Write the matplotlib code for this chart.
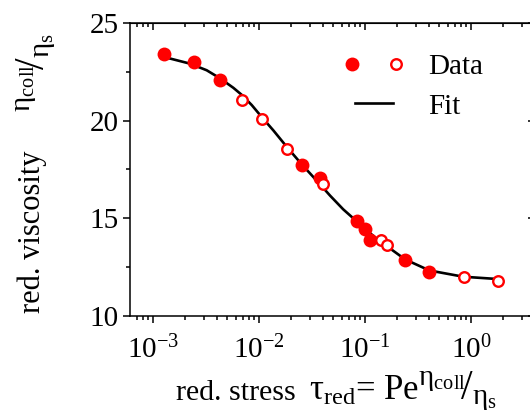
import matplotlib
matplotlib.use("Agg")
import matplotlib.pyplot as plt
from matplotlib.ticker import LogLocator, MultipleLocator, NullFormatter
from matplotlib.legend_handler import HandlerTuple

# values
filled_x = [1.27e-3, 2.44e-3, 4.28e-3, 0.0256, 0.0376, 0.0835, 0.100, 0.1115, 0.238, 0.404]
filled_y = [23.41, 23.02, 22.08, 17.73, 17.05, 14.88, 14.45, 13.89, 12.86, 12.27]
open_x = [6.87e-3, 0.01074, 0.0185, 0.0399, 0.1406, 0.160, 0.865, 1.81]
open_y = [21.06, 20.10, 18.56, 16.76, 13.89, 13.63, 11.98, 11.80]

# fit curve
fit_x = [1.25e-3, 2.23e-3, 3.21e-3, 4.28e-3, 5.73e-3, 6.87e-3, 8.53e-3, 0.01074,
         0.01365, 0.0185, 0.0256, 0.0376, 0.0468, 0.0622, 0.0836, 0.100, 0.124,
         0.160, 0.238, 0.404, 0.845, 1.81]
fit_y = [23.27, 22.92, 22.58, 22.17, 21.68, 21.32, 20.80, 20.15,
         19.50, 18.62, 17.73, 16.74, 16.16, 15.46, 14.84, 14.45, 14.03,
         13.58, 12.90, 12.33, 12.01, 11.89]

plt.rcParams["font.family"] = ["Liberation Serif", "DejaVu Serif"]
plt.rcParams["mathtext.fontset"] = "custom"
plt.rcParams["mathtext.rm"] = "Liberation Serif"
plt.rcParams["mathtext.it"] = "Liberation Serif"
plt.rcParams["mathtext.default"] = "rm"
plt.rcParams["axes.unicode_minus"] = False

fig = plt.figure(figsize=(5.3, 4.15), dpi=100)
ax = fig.add_axes([130/530, 1-316/415, 405/530, 293/415])

fit_line, = ax.plot(fit_x, fit_y, color="black", lw=1.9, zorder=2)
pf, = ax.plot(filled_x, filled_y, "o", color="red", ms=10, mew=0, zorder=3)
po, = ax.plot(open_x, open_y, "o", mfc="white", mec="red", ms=7.6, mew=1.7, zorder=3)

ax.set_xscale("log")
ax.set_xlim(6.07e-4, 4.0)
ax.set_ylim(10, 25)
ax.xaxis.set_major_locator(LogLocator(base=10, numticks=10))
ax.xaxis.set_minor_locator(LogLocator(base=10, subs=range(2, 10), numticks=20))
ax.xaxis.set_minor_formatter(NullFormatter())
ax.yaxis.set_major_locator(MultipleLocator(5))
ax.yaxis.set_minor_locator(MultipleLocator(2.5))

for s in ax.spines.values():
    s.set_linewidth(1.1)
ax.tick_params(which="both", direction="out", width=1.1, labelsize=21,
               top=False, right=False)
ax.tick_params(which="major", length=5, pad=3)
ax.tick_params(which="minor", length=3)
ax.tick_params(axis="x", which="major", pad=9)

# mirrored ticks pointing inward on top and right
sec_x = ax.secondary_xaxis("top")
sec_x.xaxis.set_major_locator(LogLocator(base=10, numticks=10))
sec_x.xaxis.set_minor_locator(LogLocator(base=10, subs=range(2, 10), numticks=20))
sec_x.tick_params(which="both", direction="in", width=1.1, labeltop=False)
sec_x.tick_params(which="major", length=5)
sec_x.tick_params(which="minor", length=3)
sec_x.xaxis.set_minor_formatter(NullFormatter())
sec_y = ax.secondary_yaxis("right")
sec_y.yaxis.set_major_locator(MultipleLocator(5))
sec_y.yaxis.set_minor_locator(MultipleLocator(2.5))
sec_y.tick_params(which="both", direction="in", width=1.1, labelright=False)
sec_y.tick_params(which="major", length=5)
sec_y.tick_params(which="minor", length=3)

# axis titles, built from pieces so the ratio can sit raised/lowered at full size
fig.text(176/530, 1-400/415, "red. stress", fontsize=21.5,
         ha="left", va="baseline")
fig.text(309/530, 1-400/415, r"$\tau_{red}$= Pe", fontsize=25,
         ha="left", va="baseline")
fig.text(418/530, 1-399/415, r"$^{\eta_{coll}}\!/_{\eta_s}$", fontsize=30,
         ha="left", va="baseline")
fig.text(32/530, 1-232/415, "red. viscosity", fontsize=22, rotation=90,
         ha="center", va="center")
fig.text(36/530, 1-72/415, r"$^{\eta_{coll}}\!/_{\eta_s}$", fontsize=30,
         rotation=90, ha="center", va="center")

leg = ax.legend([(pf, po), fit_line], ["Data", "Fit"],
                handler_map={tuple: HandlerTuple(ndivide=None, pad=1.75)},
                handlelength=1.3, handletextpad=1.2, labelspacing=0.45,
                borderpad=0, frameon=False, fontsize=21,
                loc="upper left", bbox_to_anchor=(0.52, 0.945))

fig.savefig("out.png", dpi=100)
